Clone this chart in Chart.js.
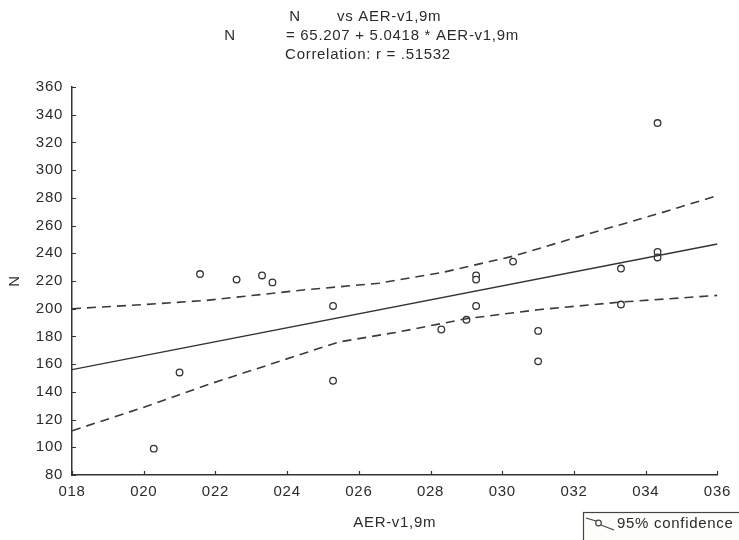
<!DOCTYPE html>
<html><head><meta charset="utf-8">
<script src="https://cdn.jsdelivr.net/npm/chart.js@4/dist/chart.umd.min.js"></script>
<style>html,body{margin:0;padding:0;background:#fff}canvas{display:block}</style>
</head><body>
<canvas id="c" width="739" height="540"></canvas>
<script>
// Scatter observations (AER-v1,9m in thousandths, N)
const aerValues = [20.28, 21.0, 21.57, 22.59, 23.3, 23.59, 25.28, 25.28, 28.3, 29.0, 29.27, 29.27, 29.27, 30.3, 31.0, 31.0, 33.31, 33.31, 34.33, 34.33, 34.33];
const nValues   = [99, 154, 225, 221, 224, 219, 202, 148, 185, 192, 224, 221, 202, 234, 184, 162, 229, 203, 334, 241, 237];
// Regression line end points
const fitX = [18, 36];
const fitY = [156, 246.7];
// 95% confidence band
const upperX = [18, 20, 21.74, 24.52, 26.56, 28.3, 30.3, 32, 34.33, 36];
const upperY = [200, 203, 206, 213.7, 218.4, 226, 237.9, 251, 268.4, 281.6];
const lowerX = [18, 19.9, 21.74, 23.59, 25.44, 27.1, 29, 31, 33.3, 36];
const lowerY = [111.9, 128, 144.8, 160.4, 176, 183.2, 192.8, 199.3, 204.8, 209.6];
// Tick labels
const xTickLabels = ['018', '020', '022', '024', '026', '028', '030', '032', '034', '036'];
const titleLines = ['N', 'vs AER-v1,9m', 'N', '= 65.207 + 5.0418 * AER-v1,9m', 'Correlation: r = .51532'];
const legendLabel = '95% confidence';

const FONT = '"Liberation Sans", Arial, sans-serif';
const INK = '#2b2b2b';
const LS = '0.7px';

const pts = (xs, ys) => xs.map((x, i) => ({x, y: ys[i]}));

const spacingPlugin = {
  id: 'spacing',
  beforeUpdate(chart) { chart.ctx.letterSpacing = LS; },
  beforeDraw(chart) { chart.ctx.letterSpacing = LS; }
};

const decorPlugin = {
  id: 'decor',
  afterDraw(chart) {
    const ctx = chart.ctx;
    const xs = chart.scales.x, ys = chart.scales.y;
    ctx.save();
    ctx.letterSpacing = LS;
    // inward tick marks
    ctx.strokeStyle = '#333';
    ctx.lineWidth = 1.2;
    ctx.beginPath();
    xs.ticks.forEach(t => {
      const px = Math.round(xs.getPixelForValue(t.value)) + 0.5;
      ctx.moveTo(px, ys.bottom); ctx.lineTo(px, ys.bottom - 4);
    });
    ys.ticks.forEach(t => {
      const py = Math.round(ys.getPixelForValue(t.value)) + 0.5;
      ctx.moveTo(xs.left, py); ctx.lineTo(xs.left + 4, py);
    });
    ctx.stroke();
    // titles
    ctx.fillStyle = INK;
    ctx.font = '15px ' + FONT;
    ctx.textBaseline = 'middle';
    ctx.textAlign = 'center';
    ctx.fillText(titleLines[0], 295, 17);
    ctx.textAlign = 'left';
    ctx.fillText(titleLines[1], 337, 17);
    ctx.textAlign = 'center';
    ctx.fillText(titleLines[2], 230, 36);
    ctx.textAlign = 'left';
    ctx.fillText(titleLines[3], 286, 36);
    ctx.textAlign = 'center';
    ctx.fillText(titleLines[4], 368, 55);
    // legend box
    ctx.fillStyle = '#fdfdfa';
    ctx.fillRect(583, 512, 170, 40);
    ctx.strokeStyle = '#444';
    ctx.lineWidth = 1.2;
    ctx.strokeRect(583.5, 512.5, 170, 40);
    ctx.beginPath();
    ctx.moveTo(586, 518); ctx.lineTo(596, 521);
    ctx.moveTo(601, 525); ctx.lineTo(614, 530);
    ctx.stroke();
    ctx.beginPath();
    ctx.arc(598.5, 523, 2.8, 0, Math.PI * 2);
    ctx.stroke();
    ctx.fillStyle = INK;
    ctx.textAlign = 'left';
    ctx.fillText(legendLabel, 617, 524);
    ctx.restore();
  }
};

new Chart(document.getElementById('c'), {
  type: 'scatter',
  data: {
    datasets: [
      { label: 'upper', data: pts(upperX, upperY), showLine: true, borderColor: '#3a3a3a', borderWidth: 1.6, borderDash: [9, 6], pointRadius: 0, fill: false, tension: 0 },
      { label: 'lower', data: pts(lowerX, lowerY), showLine: true, borderColor: '#3a3a3a', borderWidth: 1.6, borderDash: [9, 6], pointRadius: 0, fill: false, tension: 0 },
      { label: 'fit', data: pts(fitX, fitY), showLine: true, borderColor: '#333', borderWidth: 1.4, pointRadius: 0, fill: false },
      { label: 'N', data: pts(aerValues, nValues), pointRadius: 3.3, pointBorderWidth: 1.3, pointBorderColor: '#333', pointBackgroundColor: '#fff', showLine: false }
    ]
  },
  options: {
    responsive: false,
    animation: false,
    devicePixelRatio: 1,
    layout: { padding: { top: 87, right: 19, left: 0, bottom: 0 } },
    plugins: { legend: { display: false }, tooltip: { enabled: false }, title: { display: false } },
    scales: {
      x: {
        type: 'linear', min: 18, max: 36,
        grid: { display: false, drawTicks: false },
        border: { display: true, color: '#333', width: 1.5 },
        ticks: { stepSize: 2, padding: 8, color: INK, font: { family: FONT, size: 15 },
                 callback: (v, i) => xTickLabels[i] },
        title: { display: true, text: 'AER-v1,9m', color: INK, font: { family: FONT, size: 15 }, padding: { top: 0, bottom: 8 } },
        afterFit: s => { s.height = 65; }
      },
      y: {
        type: 'linear', min: 80, max: 360,
        grid: { display: false, drawTicks: false },
        border: { display: true, color: '#333', width: 1.5 },
        ticks: { stepSize: 20, padding: 9, color: INK, font: { family: FONT, size: 15 } },
        title: { display: true, text: 'N', color: INK, font: { family: FONT, size: 15 }, padding: { top: 6, bottom: 0 } },
        afterFit: s => { s.width = 72; }
      }
    }
  },
  plugins: [spacingPlugin, decorPlugin]
});
</script>
</body></html>
